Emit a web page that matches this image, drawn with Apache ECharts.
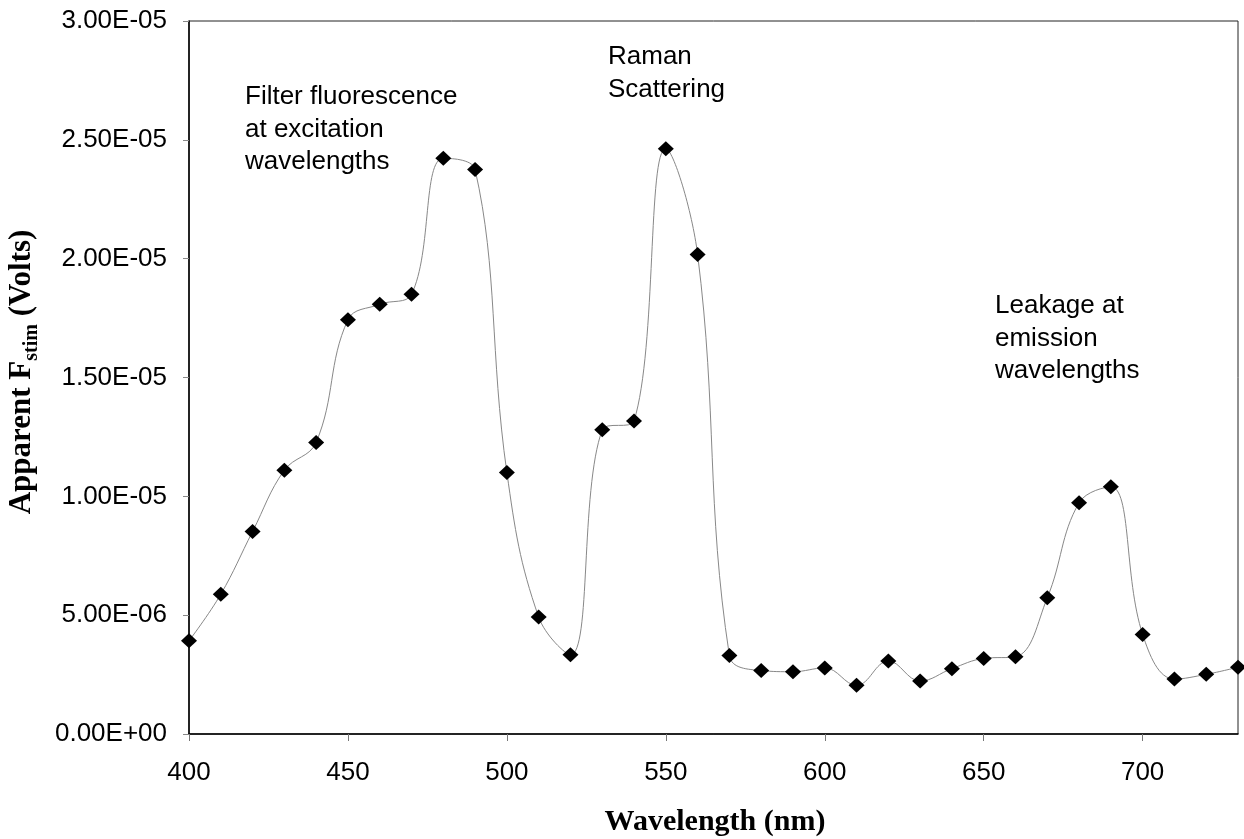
<!DOCTYPE html>
<html>
<head>
<meta charset="utf-8">
<script src="https://cdn.jsdelivr.net/npm/echarts@6/dist/echarts.min.js"></script>
<style>
  html, body { margin: 0; padding: 0; background: #fff; }
  #chart { width: 1244px; height: 839px; }
</style>
</head>
<body>
<div id="chart"></div>
<script>
// Wavelengths (nm)
var wavelengths = [400, 410, 420, 430, 440, 450, 460, 470, 480, 490, 500, 510, 520,
                   530, 540, 550, 560, 570, 580, 590, 600, 610, 620, 630, 640, 650,
                   660, 670, 680, 690, 700, 710, 720, 730];
// Apparent F_stim (Volts)
var fstim = [3.92e-6, 5.88e-6, 8.52e-6, 1.11e-5, 1.227e-5, 1.743e-5, 1.808e-5, 1.85e-5,
             2.422e-5, 2.375e-5, 1.10e-5, 4.92e-6, 3.33e-6, 1.28e-5, 1.317e-5, 2.463e-5,
             2.018e-5, 3.3e-6, 2.67e-6, 2.62e-6, 2.78e-6, 2.05e-6, 3.07e-6, 2.23e-6,
             2.75e-6, 3.18e-6, 3.25e-6, 5.73e-6, 9.73e-6, 1.04e-5, 4.19e-6, 2.31e-6,
             2.51e-6, 2.81e-6];
var annotations = [
  { text: 'Filter fluorescence\nat excitation\nwavelengths', left: 245, top: 81 },
  { text: 'Raman\nScattering', left: 608, top: 41 },
  { text: 'Leakage at\nemission\nwavelengths', left: 995, top: 290 }
];
var xTitle = 'Wavelength (nm)';

var sansFont = '"Liberation Sans", Arial, sans-serif';
var serifFont = '"Liberation Serif", "Times New Roman", serif';

function sci(v) {
  var s = Number(v).toExponential(2).split('e');
  var e = parseInt(s[1], 10);
  var sign = e < 0 ? '-' : '+';
  var a = Math.abs(e);
  return s[0] + 'E' + sign + (a < 10 ? '0' + a : '' + a);
}

var chart = echarts.init(document.getElementById('chart'), null, { renderer: 'canvas' });

var points = wavelengths.map(function (w, i) { return [w, fstim[i]]; });

var graphics = annotations.map(function (a) {
  return {
    type: 'text',
    left: a.left,
    top: a.top,
    style: {
      text: a.text,
      fontFamily: sansFont,
      fontSize: 26,
      lineHeight: 32.5,
      fill: '#000'
    }
  };
});
graphics.push({
  type: 'text',
  x: 715,
  y: 822,
  style: {
    text: xTitle,
    fontFamily: serifFont,
    fontWeight: 'bold',
    fontSize: 30,
    fill: '#000',
    align: 'center',
    verticalAlign: 'middle',
    textAlign: 'center',
    textVerticalAlign: 'middle'
  }
});
graphics.push({
  type: 'text',
  x: 22,
  y: 372,
  rotation: Math.PI / 2,
  style: {
    text: '{a|Apparent F}{b|stim}{a| (Volts)}',
    align: 'center',
    verticalAlign: 'middle',
    textAlign: 'center',
    textVerticalAlign: 'middle',
    rich: {
      a: { fontFamily: serifFont, fontWeight: 'bold', fontSize: 31, lineHeight: 40, fill: '#000', color: '#000' },
      b: { fontFamily: serifFont, fontWeight: 'bold', fontSize: 20, lineHeight: 20, verticalAlign: 'bottom', fill: '#000', color: '#000' }
    }
  }
});

chart.setOption({
  animation: false,
  backgroundColor: '#fff',
  grid: {
    left: 189, top: 21, right: 6, bottom: 105,
    show: true, borderColor: '#222', borderWidth: 1, backgroundColor: 'transparent'
  },
  xAxis: {
    type: 'value',
    min: 400, max: 730, interval: 50,
    axisLine: { show: true, onZero: false, lineStyle: { color: '#000', width: 1.5 } },
    axisTick: { show: true, inside: false, length: 7, lineStyle: { color: '#777', width: 1 } },
    axisLabel: {
      show: true, margin: 26, showMaxLabel: false,
      fontFamily: sansFont, fontSize: 26, color: '#000'
    },
    splitLine: { show: false }
  },
  yAxis: {
    type: 'value',
    min: 0, max: 3e-5, interval: 5e-6,
    axisLine: { show: true, lineStyle: { color: '#000', width: 1.5 } },
    axisTick: { show: true, inside: false, length: 6, lineStyle: { color: '#888', width: 1 } },
    axisLabel: {
      show: true, margin: 22,
      fontFamily: sansFont, fontSize: 26, color: '#000',
      formatter: sci
    },
    splitLine: { show: false }
  },
  series: [{
    type: 'line',
    data: points,
    smooth: 0.4,
    clip: false,
    symbol: 'diamond',
    symbolSize: [16, 15],
    showAllSymbol: true,
    lineStyle: { color: '#888', width: 1 },
    itemStyle: { color: '#000', borderWidth: 0 },
    emphasis: { disabled: true },
    z: 3
  }],
  graphic: graphics
});
</script>
</body>
</html>
